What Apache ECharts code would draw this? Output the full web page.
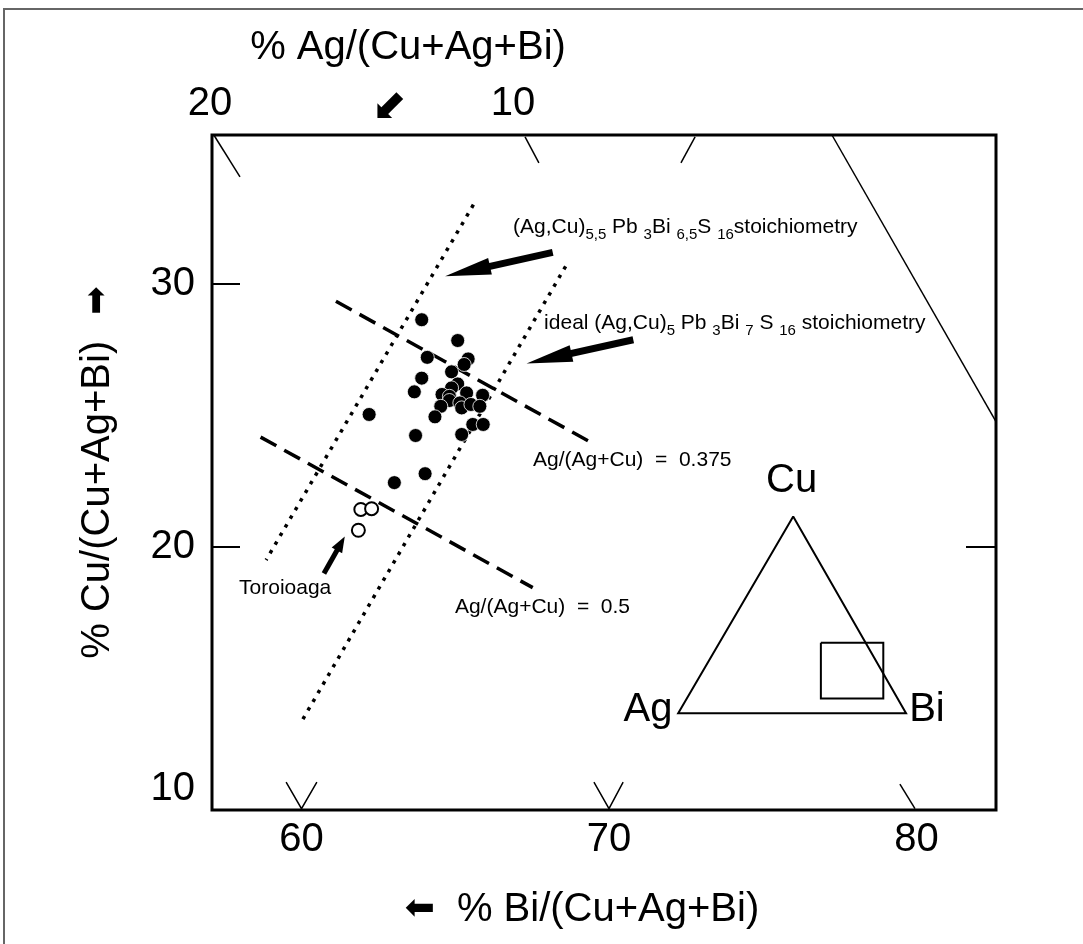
<!DOCTYPE html>
<html>
<head>
<meta charset="utf-8">
<script src="https://cdn.jsdelivr.net/npm/echarts@6/dist/echarts.min.js"></script>
<style>
html, body { margin: 0; padding: 0; background: #fff; }
#main { width: 1083px; height: 944px; }
</style>
</head>
<body>
<div id="main"></div>
<script>
// 数据：x = % Bi, y = % Cu
var filledPts = [
    [63.91, 28.63], [65.08, 27.84], [64.09, 27.20], [65.42, 27.14], [65.29, 26.93],
    [64.88, 26.65], [63.91, 26.41], [63.67, 25.89], [65.08, 26.19], [64.88, 26.04],
    [64.57, 25.79], [64.81, 25.72], [65.37, 25.85], [65.89, 25.76], [64.81, 25.56],
    [65.15, 25.47], [64.53, 25.34], [65.21, 25.28], [65.51, 25.41], [65.80, 25.34],
    [64.34, 24.94], [65.57, 24.65], [65.91, 24.65], [65.21, 24.27], [62.20, 25.03],
    [63.71, 24.23], [64.02, 22.78], [63.02, 22.44]
];
var openPts = [[61.93, 21.42], [62.28, 21.45], [61.85, 20.63]];

var xTicks = [60, 70, 80];
var yTicks = [10, 20, 30];
var agTicks = ['20', '10'];

// 化学计量线（点线）和 Ag/(Ag+Cu) 线（虚线）
var dottedLines = [
    [[65.59, 33.00], [58.85, 19.50]],
    [[68.59, 30.66], [59.97, 13.30]]
];
var dashedLines = [
    [[61.12, 29.33], [69.49, 23.92]],
    [[58.67, 24.17], [67.52, 18.45]]
];
// 三元图网格刻度
var frameLines = [
    [[77.25, 35.65], [82.585, 24.76]],
    [[57.15, 35.65], [58.00, 34.06]],
    [[67.27, 35.58], [67.72, 34.59]],
    [[72.80, 35.58], [72.34, 34.59]],
    [[59.50, 11.06], [60.00, 10.05], [60.50, 11.06]],
    [[69.51, 11.06], [70.00, 10.05], [70.46, 11.06]],
    [[79.46, 10.98], [79.95, 10.05]]
];
// 小三角形示意
var insetLines = [
    [[75.99, 21.15], [72.25, 13.68], [79.66, 13.68], [75.99, 21.15]],
    [[76.89, 16.36], [78.92, 16.36], [78.92, 14.24], [76.89, 14.24], [76.89, 16.36]]
];
// 箭头 (尾 -> 箭头中心)
var bigArrows = [
    [[68.17, 31.19], [65.40, 30.47]],
    [[70.79, 27.87], [68.05, 27.16]]
];
var smallArrows = [
    [[60.73, 18.99], [61.28, 20.13]]
];

var notes = [
    [66.88, 32.13, '{m|(Ag,Cu)}{s|5,5}{m| Pb }{s|3}{m|Bi }{s|6,5}{m|S }{s|16}{m|stoichiometry}'],
    [67.89, 28.48, '{m|ideal (Ag,Cu)}{s|5}{m| Pb }{s|3}{m|Bi }{s|7}{m| S }{s|16}{m| stoichiometry}'],
    [67.53, 23.28, '{m|Ag/(Ag+Cu)  =  0.375}'],
    [64.99, 17.70, '{m|Ag/(Ag+Cu)  =  0.5}'],
    [57.97, 18.43, '{m|Toroioaga}']
];
var corners = [
    [75.94, 22.49, 'Cu'],
    [71.27, 13.80, 'Ag'],
    [80.34, 13.80, 'Bi']
];

var FONT = 'Liberation Sans, Arial, Helvetica, sans-serif';
var ARROWFONT = 'DejaVu Sans, sans-serif';
// 细长箭头 (路径外框为正方形, 以免被拉伸)
var HEAD_BIG = 'path://M23,0L31.5,46L14.5,46Z M0,46L0,46 M46,46L46,46';
var HEAD_SMALL = 'path://M8,0L14,16L2,16Z M0,16L0,16 M16,16L16,16';

var myChart = echarts.init(document.getElementById('main'));

function segs(list) {
    return list.map(function (c) { return { coords: c }; });
}

var option = {
    backgroundColor: '#fff',
    animation: false,
    grid: {
        left: 212, top: 135, width: 784, height: 675,
        show: true, borderColor: '#000', borderWidth: 3
    },
    xAxis: {
        type: 'value', min: 57.09, max: 82.585,
        axisLine: { show: false },
        axisTick: { show: false },
        splitLine: { show: false },
        axisLabel: {
            customValues: xTicks, margin: 10,
            fontSize: 40, color: '#000', fontFamily: FONT
        },
        name: '{a|⬅}% Bi/(Cu+Ag+Bi)',
        nameLocation: 'middle',
        nameGap: 80,
        nameTextStyle: {
            fontSize: 40, color: '#000', fontFamily: FONT,
            padding: [0, 44, 0, 0],
            rich: { a: { fontSize: 36, fontFamily: ARROWFONT, color: '#000', padding: [0, 22, 0, 0] } }
        }
    },
    yAxis: [
        {
            type: 'value', min: 10, max: 35.65,
            axisLine: { show: false },
            splitLine: { show: false },
            axisTick: {
                show: true, inside: true, length: 28, customValues: [20, 30],
                lineStyle: { color: '#000', width: 2 }
            },
            axisLabel: {
                customValues: yTicks, margin: 17,
                fontSize: 40, color: '#000', fontFamily: FONT,
                formatter: function (v) { return v === 10 ? '{lo|10}' : String(v); },
                rich: { lo: { fontSize: 40, fontFamily: FONT, color: '#000', padding: [0, 0, 42, 0] } }
            },
            name: '% Cu/(Cu+Ag+Bi){a|➡}',
            nameLocation: 'middle',
            nameRotate: 90,
            nameGap: 94,
            nameTextStyle: {
                fontSize: 40, color: '#000', fontFamily: FONT,
                rich: { a: { fontSize: 34, fontFamily: ARROWFONT, color: '#000', padding: [0, 0, 0, 26] } }
            }
        },
        {
            type: 'value', min: 10, max: 35.65, position: 'right',
            axisLine: { show: false },
            splitLine: { show: false },
            axisLabel: { show: false },
            axisTick: {
                show: true, inside: true, length: 30, customValues: [20],
                lineStyle: { color: '#000', width: 2 }
            }
        }
    ],
    graphic: [
        { type: 'rect', shape: { x: 4, y: 9, width: 1300, height: 1100 },
          style: { fill: 'none', stroke: '#666', lineWidth: 2 }, z: 100 },
        { type: 'text', x: 408, y: 48,
          style: { text: '% Ag/(Cu+Ag+Bi)', font: '40px ' + FONT, fill: '#000', align: 'center', verticalAlign: 'middle' } },
        { type: 'text', x: 210, y: 104,
          style: { text: agTicks[0], font: '40px ' + FONT, fill: '#000', align: 'center', verticalAlign: 'middle' } },
        { type: 'text', x: 513, y: 104,
          style: { text: agTicks[1], font: '40px ' + FONT, fill: '#000', align: 'center', verticalAlign: 'middle' } },
        { type: 'text', x: 389, y: 108,
          style: { text: '⬋', font: '42px ' + ARROWFONT, fill: '#000', align: 'center', verticalAlign: 'middle' } }
    ],
    series: [
        {
            type: 'lines', coordinateSystem: 'cartesian2d', polyline: true, silent: true,
            data: segs(frameLines),
            lineStyle: { color: '#000', width: 1.5, opacity: 1 }
        },
        {
            type: 'lines', coordinateSystem: 'cartesian2d', polyline: true, silent: true,
            data: segs(insetLines),
            lineStyle: { color: '#000', width: 2, opacity: 1 }
        },
        {
            type: 'lines', coordinateSystem: 'cartesian2d', silent: true,
            data: segs(dottedLines),
            lineStyle: { color: '#000', width: 3.5, type: [3.5, 6.5], opacity: 1 }
        },
        {
            type: 'lines', coordinateSystem: 'cartesian2d', silent: true,
            data: segs(dashedLines),
            lineStyle: { color: '#000', width: 3.5, type: [18, 9], opacity: 1 }
        },
        {
            type: 'lines', coordinateSystem: 'cartesian2d', silent: true,
            data: segs(bigArrows),
            symbol: ['none', HEAD_BIG], symbolSize: 46,
            lineStyle: { color: '#000', width: 7, opacity: 1 }
        },
        {
            type: 'lines', coordinateSystem: 'cartesian2d', silent: true,
            data: segs(smallArrows),
            symbol: ['none', HEAD_SMALL], symbolSize: 16,
            lineStyle: { color: '#000', width: 5, opacity: 1 }
        },
        {
            name: 'Toroioaga', type: 'scatter', data: openPts,
            symbol: 'circle', symbolSize: 13,
            itemStyle: { color: '#fff', borderColor: '#000', borderWidth: 2, opacity: 1 }, z: 5
        },
        {
            name: 'samples', type: 'scatter', data: filledPts,
            symbol: 'circle', symbolSize: 14,
            itemStyle: { color: '#000', borderColor: '#fff', borderWidth: 0.8, opacity: 1 }, z: 5
        },
        {
            type: 'scatter', silent: true, symbolSize: 0,
            itemStyle: { opacity: 1 },
            data: notes.map(function (n) { return { value: [n[0], n[1]], text: n[2] }; }),
            label: {
                show: true, position: 'right', distance: 0,
                formatter: function (p) { return p.data.text; },
                rich: {
                    m: { fontSize: 21, fontFamily: FONT, color: '#000', lineHeight: 30, verticalAlign: 'middle' },
                    s: { fontSize: 15, fontFamily: FONT, color: '#000', lineHeight: 15, verticalAlign: 'bottom' }
                }
            }
        },
        {
            type: 'scatter', silent: true, symbolSize: 0,
            itemStyle: { opacity: 1 },
            data: corners.map(function (n) { return { value: [n[0], n[1]], text: n[2] }; }),
            label: {
                show: true, position: 'inside',
                formatter: function (p) { return p.data.text; },
                fontSize: 40, fontFamily: FONT, color: '#000'
            }
        }
    ]
};
myChart.setOption(option);
</script>
</body>
</html>
